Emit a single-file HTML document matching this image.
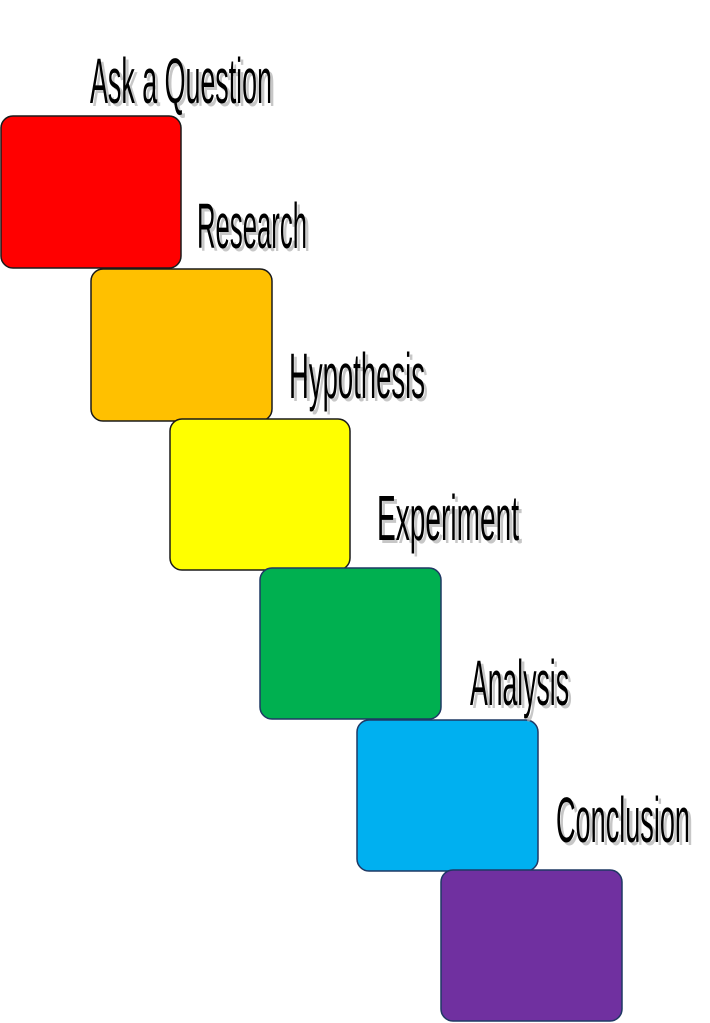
<!DOCTYPE html>
<html><head><meta charset="utf-8"><style>
html,body{margin:0;padding:0;background:#fff;}
svg{display:block;}
text{font-family:"Liberation Sans",sans-serif;font-size:64px;}
</style></head><body>
<svg width="710" height="1023" viewBox="0 0 710 1023" xmlns="http://www.w3.org/2000/svg">
<g stroke="#1a1a1a" stroke-width="1.5">
<rect x="1" y="116" width="180" height="152" rx="12" fill="#ff0000"/>
<rect x="91" y="269" width="181" height="152" rx="12" fill="#ffc000"/>
<rect x="170" y="419" width="180" height="151" rx="12" fill="#ffff00"/>
<rect x="260" y="568" width="181" height="151" rx="12" fill="#00b050" stroke="#1f3864"/>
<rect x="357" y="720" width="181" height="151" rx="12" fill="#00b0f0" stroke="#1f3864"/>
<rect x="441" y="870" width="181" height="151" rx="12" fill="#7030a0" stroke="#1f3864"/>
</g>
<g fill="#b0b0b0" opacity="0.7">
<text x="93" y="106" textLength="182" lengthAdjust="spacingAndGlyphs">Ask a Question</text>
<text x="200" y="251" textLength="110" lengthAdjust="spacingAndGlyphs">Research</text>
<text x="292" y="401" textLength="136" lengthAdjust="spacingAndGlyphs">Hypothesis</text>
<text x="380" y="543" textLength="142" lengthAdjust="spacingAndGlyphs">Experiment</text>
<text x="473" y="708" textLength="99" lengthAdjust="spacingAndGlyphs">Analysis</text>
<text x="559" y="845" textLength="134" lengthAdjust="spacingAndGlyphs">Conclusion</text>
</g>
<g fill="#000">
<text x="90" y="103" textLength="182" lengthAdjust="spacingAndGlyphs">Ask a Question</text>
<text x="197" y="248" textLength="110" lengthAdjust="spacingAndGlyphs">Research</text>
<text x="289" y="398" textLength="136" lengthAdjust="spacingAndGlyphs">Hypothesis</text>
<text x="377" y="540" textLength="142" lengthAdjust="spacingAndGlyphs">Experiment</text>
<text x="470" y="705" textLength="99" lengthAdjust="spacingAndGlyphs">Analysis</text>
<text x="556" y="842" textLength="134" lengthAdjust="spacingAndGlyphs">Conclusion</text>
</g>
</svg>
</body></html>
